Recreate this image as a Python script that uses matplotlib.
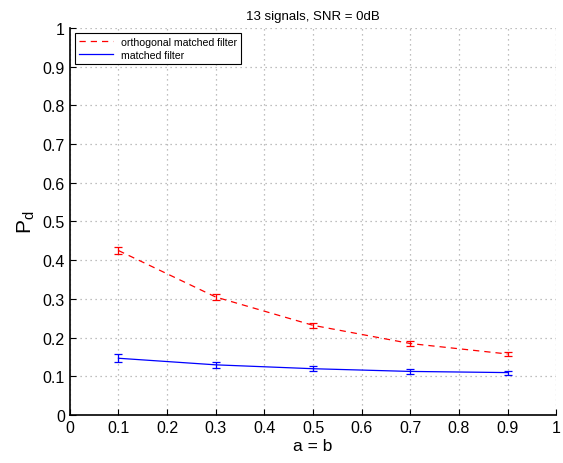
import numpy as np
import matplotlib
matplotlib.use("Agg")
import matplotlib.pyplot as plt
from matplotlib.lines import Line2D

# data
ab = [0.1, 0.3, 0.5, 0.7, 0.9]
pd_orth = [0.425, 0.305, 0.232, 0.185, 0.158]
err_orth = [0.010, 0.007, 0.007, 0.006, 0.005]
pd_mf = [0.147, 0.130, 0.120, 0.113, 0.110]
err_mf = [0.010, 0.008, 0.006, 0.006, 0.005]
ticks = np.round(np.arange(0, 1.01, 0.1), 1)
tick_labels = ["0", "0.1", "0.2", "0.3", "0.4", "0.5", "0.6", "0.7", "0.8", "0.9", "1"]

plt.rcParams['font.family'] = ['Liberation Sans', 'DejaVu Sans']

fig = plt.figure(figsize=(5.63, 4.64), dpi=100)
ax = fig.add_axes([0.124, 0.103, 0.864, 0.835])

ax.errorbar(ab, pd_orth, yerr=err_orth, color='red', ls='--', lw=0.9,
            capsize=3, elinewidth=0.9, capthick=0.9, dashes=(5, 4))
ax.errorbar(ab, pd_mf, yerr=err_mf, color='blue', ls='-', lw=0.9,
            capsize=3, elinewidth=0.9, capthick=0.9)

ax.set_xlim(0, 1)
ax.set_ylim(0, 1)
ax.set_xticks(ticks)
ax.set_xticklabels(tick_labels)
ax.set_yticks(ticks)
ax.set_yticklabels(tick_labels)
ax.tick_params(direction='in', labelsize=11.5, length=4)
ax.grid(True, ls=(0, (1, 3)), color='#aaaaaa', lw=0.9)
ax.spines['top'].set_visible(False)
ax.spines['right'].set_visible(False)
ax.spines['left'].set_linewidth(1.2)
ax.spines['bottom'].set_linewidth(1.2)

ax.set_xlabel("a = b", fontsize=12.5, labelpad=2)
ax.set_ylabel(r"P$_\mathregular{d}$", fontsize=15)
ax.set_title("13 signals, SNR = 0dB", fontsize=9.5)

handles = [Line2D([], [], color='red', ls='--', lw=0.9, dashes=(5, 4)),
           Line2D([], [], color='blue', ls='-', lw=0.9)]
leg = ax.legend(handles, ['orthogonal matched filter', 'matched filter'],
                loc='upper left', fontsize=7.6, fancybox=False, framealpha=1,
                edgecolor='black', borderpad=0.35, handlelength=3.2,
                borderaxespad=0.5, labelspacing=0.3)
leg.get_frame().set_linewidth(0.8)

fig.savefig("out.png", dpi=100)
